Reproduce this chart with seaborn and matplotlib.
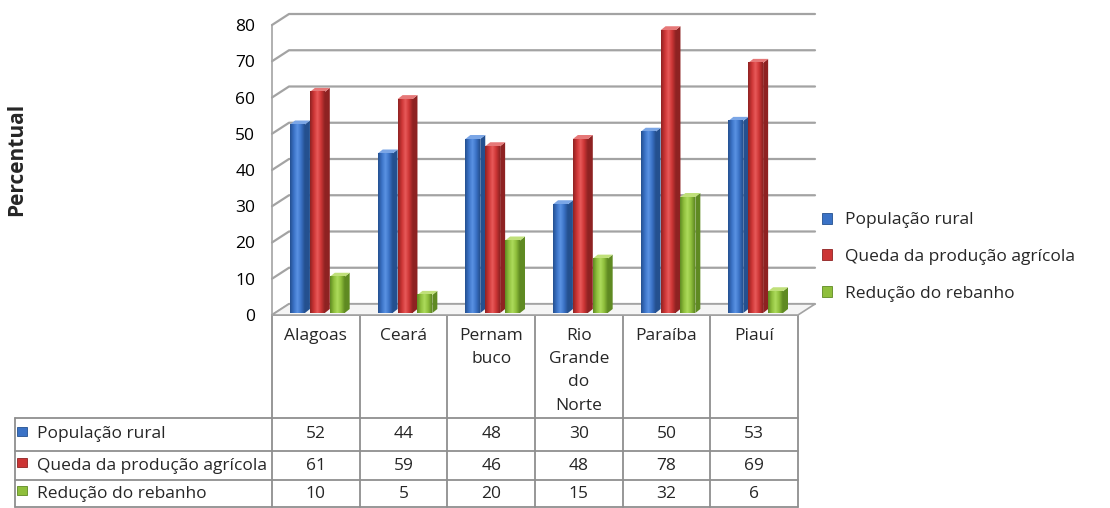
import numpy as np
import pandas as pd
import matplotlib
matplotlib.use("Agg")
import matplotlib.pyplot as plt
import seaborn as sns
from matplotlib.patches import Polygon, Rectangle, Patch
from matplotlib.colors import LinearSegmentedColormap

# ---- dados ----
estados = ["Alagoas", "Ceará", "Pernambuco", "Rio Grande do Norte", "Paraíba", "Piauí"]
rotulos = ["Alagoas", "Ceará", "Pernam\nbuco", "Rio\nGrande\ndo\nNorte", "Paraíba", "Piauí"]
series = ["População rural", "Queda da produção agrícola", "Redução do rebanho"]
pop_rural = [52, 44, 48, 30, 50, 53]
queda_agricola = [61, 59, 46, 48, 78, 69]
reducao_rebanho = [10, 5, 20, 15, 32, 6]
yticks = list(range(0, 81, 10))

cores = ["#3a72c6", "#cc3535", "#8fbf3c"]
cores_claro = ["#5b93e3", "#e85a5a", "#addb5c"]
cores_lado = ["#24508f", "#8e2222", "#5f8a22"]
cores_topo = ["#7ba6e6", "#e67878", "#c0e07a"]

sns.set_theme(style="white")
plt.rcParams["font.family"] = ["Open Sans", "DejaVu Sans"]
FS = 12.5

W, H = 1110, 508
fig = plt.figure(figsize=(W / 100, H / 100), dpi=100)

def fx(px):
    return px / W

def fy(py):
    return 1 - py / H

# area do grafico (plano frontal), em pixels
X0, X1, Y0, Y1 = 272, 798, 315, 25
ax = fig.add_axes([fx(X0), fy(Y0), (X1 - X0) / W, (Y0 - Y1) / H])
ax.set_facecolor("none")

df = pd.DataFrame({
    "Estado": estados * 3,
    "Série": np.repeat(series, len(estados)),
    "Valor": pop_rural + queda_agricola + reducao_rebanho,
})

sns.barplot(data=df, x="Estado", y="Valor", hue="Série", palette=cores,
            saturation=1, width=0.68, legend=False, ax=ax, zorder=4)

# pixel -> dados
ux = 6 / (X1 - X0)
uy = 80 / (Y0 - Y1)
DX, DY = 17, 11  # profundidade da parede

# parede do fundo / grade
for v in yticks:
    ax.plot([-0.5, -0.5 + DX * ux, 5.5 + DX * ux], [v, v + DY * uy, v + DY * uy],
            color="#a3a3a3", lw=1.6, clip_on=False, zorder=1)
ax.plot([-0.5, -0.5], [0, 80], color="#a3a3a3", lw=1.2, clip_on=False, zorder=1)

# piso
piso = Polygon([(-0.5, 0), (5.5, 0), (5.5 + DX * ux, DY * uy), (-0.5 + DX * ux, DY * uy)],
               closed=True, facecolor="#f5f5f5", edgecolor="#a3a3a3", lw=1.2,
               clip_on=False, zorder=2)
ax.add_patch(piso)

# barras 3D com sombreamento cilindrico
bx, by = 5, 4
for k, cont in enumerate(ax.containers):
    cmap = LinearSegmentedColormap.from_list(
        "c%d" % k, [cores_lado[k], cores[k], cores_claro[k], cores[k], cores_lado[k]])
    grad = np.linspace(0, 1, 64).reshape(1, -1)
    for bar in cont:
        x = bar.get_x() + 4 * ux
        w = bar.get_width() * 0.75
        h = bar.get_height()
        y0 = 2 * uy
        bar.set_x(x)
        bar.set_y(y0)
        bar.set_width(w)
        bar.set_clip_on(False)
        bar.set_edgecolor("none")
        im = ax.imshow(grad, cmap=cmap, extent=[x, x + w, y0, y0 + h],
                       aspect="auto", zorder=4.5, interpolation="bilinear")
        im.set_clip_on(False)
        lado = Polygon([(x + w, y0), (x + w + bx * ux, y0 + by * uy),
                        (x + w + bx * ux, y0 + h + by * uy), (x + w, y0 + h)],
                       closed=True, facecolor=cores_lado[k], edgecolor="none",
                       clip_on=False, zorder=4)
        topo = Polygon([(x, y0 + h), (x + w, y0 + h), (x + w + bx * ux, y0 + h + by * uy),
                        (x + bx * ux, y0 + h + by * uy)],
                       closed=True, facecolor=cores_topo[k], edgecolor="none",
                       clip_on=False, zorder=4)
        ax.add_patch(lado)
        ax.add_patch(topo)

ax.set_xlim(-0.5, 5.5)
ax.set_ylim(0, 80)
ax.set_yticks(yticks)
ax.set_xticks([])
ax.set_xlabel("")
ax.set_ylabel("")
ax.tick_params(axis="y", length=0, pad=12, labelsize=FS, labelcolor="black")
for s in ax.spines.values():
    s.set_visible(False)

fig.text(fx(17), fy(159), "Percentual", rotation=90, weight="bold",
         ha="center", va="center", fontsize=15)

# ---- tabela de dados ----
tab = fig.add_axes([0, 0, 1, 1], zorder=-1)
tab.set_xlim(0, W)
tab.set_ylim(H, 0)
tab.axis("off")

col_w = (X1 - X0) / len(estados)
edges = [X0 + i * col_w for i in range(len(estados) + 1)]
linhas = [418, 451, 480, 507]
cor_tab = "#8f8f8f"

for e in edges:
    tab.plot([e, e], [Y0, linhas[-1]], color=cor_tab, lw=1.3)
tab.plot([15, 15], [linhas[0], linhas[-1]], color=cor_tab, lw=1.3)
for yl in linhas:
    tab.plot([15, X1], [yl, yl], color=cor_tab, lw=1.3)
tab.plot([X0, X1], [Y0, Y0], color=cor_tab, lw=1.3)

for i, r in enumerate(rotulos):
    tab.text((edges[i] + edges[i + 1]) / 2, 328, r, ha="center", va="top",
             fontsize=FS, linespacing=1.6)

valores = [pop_rural, queda_agricola, reducao_rebanho]
for k, nome in enumerate(series):
    yc = (linhas[k] + linhas[k + 1]) / 2
    tab.add_patch(Rectangle((17, yc - 8), 10, 9, facecolor=cores[k],
                            edgecolor=cores_lado[k], lw=0.6))
    tab.text(37, yc, nome, ha="left", va="center", fontsize=FS)
    for i, v in enumerate(valores[k]):
        tab.text((edges[i] + edges[i + 1]) / 2, yc, str(v), ha="center",
                 va="center", fontsize=FS)

# legenda
handles = [Patch(facecolor=cores[k], edgecolor=cores_lado[k], lw=0.6) for k in range(3)]
fig.legend(handles=handles, labels=series, loc="center left",
           bbox_to_anchor=(fx(806), fy(257)), frameon=False, fontsize=FS,
           handlelength=0.6, handleheight=0.6, handletextpad=0.75, labelspacing=1.2)

fig.savefig("out.png", dpi=100)
